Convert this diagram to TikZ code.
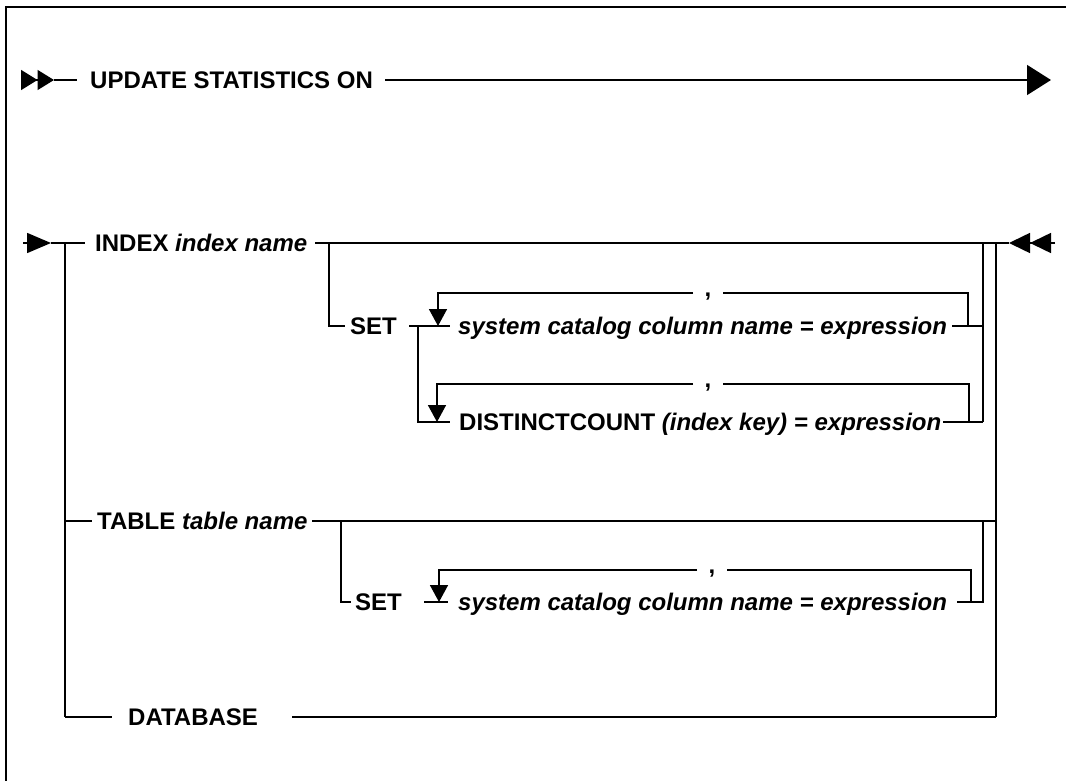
\documentclass[tikz,border=0pt]{standalone}
\usepackage{fontspec}
\setmainfont{Liberation Sans}
\usetikzlibrary{arrows.meta}

\tikzset{
  rail/.style={line width=1.6pt},
  kw/.style={font=\fontsize{24}{29}\selectfont\bfseries, inner sep=0pt,
    text height=17.2pt, text depth=0pt, anchor=west},
  sep comma/.style={font=\fontsize{24}{29}\selectfont\bfseries, inner sep=0pt, anchor=base},
  dbltip/.style={-{Triangle[length=#1,width=20pt,sep=0pt] Triangle[length=#1,width=20pt,sep=0pt]}},
  loopin/.style={-{Triangle[length=17pt,width=18pt]}},
}
\newcommand{\ph}[1]{\textit{#1}}

\begin{document}
\begin{tikzpicture}[x=1pt,y=-1pt]
    \useasboundingbox (0,0) rectangle (1066,781);

    % Frame
    \draw[line width=2pt] (6,781) -- (6,7) -- (1066,7);

    % Statement start
    \coordinate (S0) at (21,80);
    \coordinate (S1) at (54,80);
    \coordinate (S2) at (77,80);
    \node[kw] (update) at (90,80) {UPDATE STATISTICS ON};
    \coordinate (S3) at (385,80);
    \coordinate (S4) at (1051,80);
    \draw[rail, dbltip=16.5pt] (S0) -- (S1);
    \draw[rail] (S1) -- (S2);
    \draw[rail, -{Triangle[length=24pt,width=30pt]}] (S3) -- (S4);

    % Continuation and left rail
    \coordinate (A0) at (23,243);
    \coordinate (A1) at (51,243);
    \coordinate (L1) at (65,243);
    \coordinate (L2) at (65,521);
    \coordinate (L3) at (65,717);
    \draw[rail, -{Triangle[length=24pt,width=20pt]}] (A0) -- (A1);
    \draw[rail] (A1) -- (L1) -- (L3);

    % INDEX branch
    \node[kw] (index) at (95,243) {INDEX \ph{index name}};
    \coordinate (A2) at (85,243);
    \coordinate (A3) at (315,243);
    \coordinate (B1) at (329,243);
    \coordinate (E0) at (1055,243);
    \coordinate (E1) at (1009,243);
    \draw[rail] (L1) -- (A2);
    \draw[rail] (A3) -- (E1);
    \draw[rail, dbltip=21pt] (E0) -- (E1);

    % INDEX ... SET
    \node[kw] (set1) at (350,326) {SET};
    \coordinate (B2) at (345,326);
    \draw[rail] (B1) |- (B2);
    \coordinate (C1) at (409,326);
    \coordinate (C2) at (418,326);
    \coordinate (C3) at (450,326);
    \coordinate (C4) at (450,422);
    \draw[rail] (C1) -- (C3);
    \draw[rail] (C2) |- (C4);

    % system catalog column (index)
    \node[kw] (syscol1) at (458,326) {\ph{system catalog column name = expression}};
    \coordinate (R1) at (983,243);
    \coordinate (R2) at (983,422);
    \coordinate (D1) at (952,326);
    \draw[rail] (R1) -- (R2);
    \draw[rail] (D1) -- (R1 |- D1);
    \node[sep comma] (comma1) at (708,296) {,};
    \coordinate (K1) at (723,293);
    \coordinate (K2) at (693,293);
    \draw[rail] (968,326) |- (K1);
    \draw[rail, loopin] (K2) -| (438,326);

    % DISTINCTCOUNT
    \node[kw] (distinct) at (459,422) {DISTINCTCOUNT \ph{(index key) = expression}};
    \coordinate (D2) at (943,422);
    \draw[rail] (D2) -- (R2);
    \node[sep comma] (comma2) at (708,387) {,};
    \coordinate (K3) at (723,384);
    \coordinate (K4) at (693,384);
    \draw[rail] (969,422) |- (K3);
    \draw[rail, loopin] (K4) -| (437,422);

    % TABLE branch
    \node[kw] (table) at (97,521) {TABLE \ph{table name}};
    \coordinate (T1) at (92,521);
    \coordinate (T2) at (312,521);
    \coordinate (T3) at (341,521);
    \coordinate (R3) at (996,243);
    \coordinate (R4) at (996,521);
    \coordinate (R5) at (996,717);
    \draw[rail] (L2) -- (T1);
    \draw[rail] (T2) -- (R4);
    \draw[rail] (R3) -- (R5);

    % TABLE ... SET
    \node[kw] (set2) at (355,602) {SET};
    \draw[rail] (T3) |- (351,602);
    \draw[rail] (424,602) -- (448,602);
    \node[kw] (syscol2) at (458,602) {\ph{system catalog column name = expression}};
    \coordinate (R6) at (983,521);
    \draw[rail] (957,602) -| (R6);
    \node[sep comma] (comma3) at (712,573) {,};
    \coordinate (K5) at (727,570);
    \coordinate (K6) at (697,570);
    \draw[rail] (971,602) |- (K5);
    \draw[rail, loopin] (K6) -| (439,602);

    % DATABASE branch
    \node[kw] (database) at (128,717) {DATABASE};
    \coordinate (G1) at (112,717);
    \coordinate (G2) at (292,717);
    \draw[rail] (L3) -- (G1);
    \draw[rail] (G2) -- (R5);

\end{tikzpicture}
\end{document}
